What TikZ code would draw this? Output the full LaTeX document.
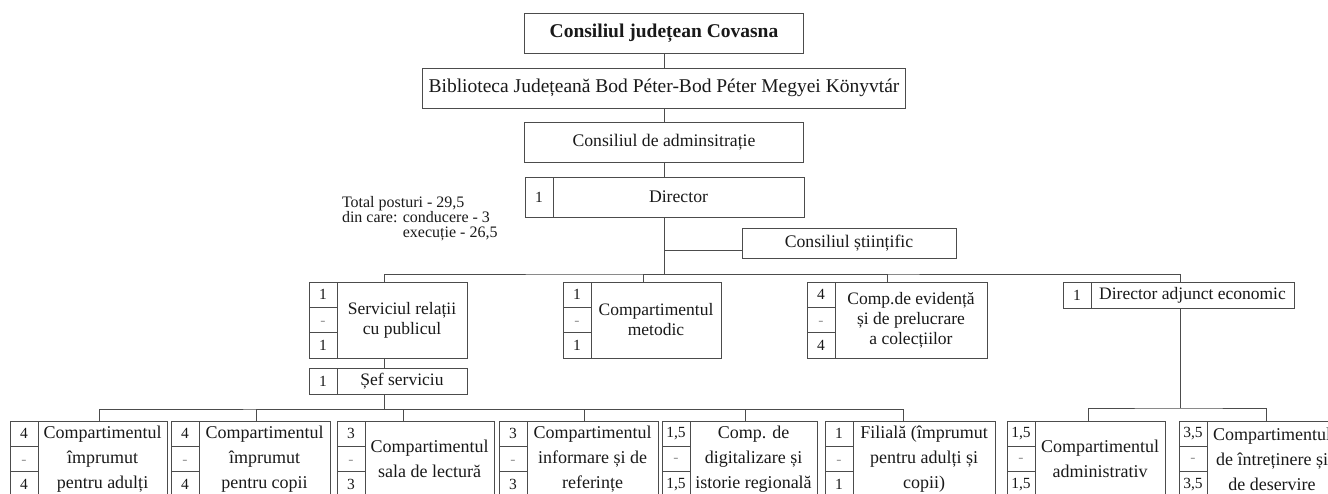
\documentclass[tikz,border=0pt]{standalone}
\usepackage{fontspec}
\setmainfont{Liberation Serif}
\usetikzlibrary{positioning}

\begin{document}
\begin{tikzpicture}[x=1pt,y=-1pt,
  every node/.style={outer sep=0pt},
  box/.style={draw=black!70,line width=1pt,align=center,inner sep=0pt,text=black!90},
  unit/.style={box,minimum height=76pt,font=\fontsize{17.5}{20}\selectfont},
  leaf/.style={box,minimum height=76pt,font=\fontsize{18}{25}\selectfont},
  numcol/.style={box,minimum width=28pt,minimum height=76pt,anchor=north east,font=\fontsize{15.5}{25.33}\selectfont,
    path picture={\draw[black!70,line width=1pt]
      ([yshift=-25.33pt]path picture bounding box.north west) -- ([yshift=-25.33pt]path picture bounding box.north east)
      ([yshift=25.33pt]path picture bounding box.south west) -- ([yshift=25.33pt]path picture bounding box.south east);}},
  num/.style={box,minimum width=28pt,anchor=north east,font=\fontsize{15.5}{18}\selectfont},
  link/.style={draw=black!70,line width=1pt}
  ]
    \useasboundingbox (0,0) rectangle (1328,493);
    \clip (0,0) rectangle (1328,493);

    \node[box,minimum width=279pt,minimum height=40pt,font=\fontsize{19.5}{22}\selectfont\bfseries] (cjc) at (664,33) {Consiliul județean Covasna};
    \node[box,minimum width=483pt,minimum height=40pt,font=\fontsize{19.5}{22}\selectfont] (bib) at (664,88) {Biblioteca Județeană Bod Péter-Bod Péter Megyei Könyvtár};
    \node[box,minimum width=279pt,minimum height=40pt,font=\fontsize{17.7}{20}\selectfont] (cda) at (664,142) {Consiliul de adminsitrație};
    \node[box,minimum width=251pt,minimum height=40pt,font=\fontsize{17.7}{20}\selectfont] (dir) at (678.5,197) {Director};
    \node[num,minimum height=40pt] (dirn) at (dir.north west) {1};
    \node[box,minimum width=214pt,minimum height=30pt,font=\fontsize{17.7}{20}\selectfont] (sci) at (849,243) {Consiliul științific};

    \node[align=left,anchor=north west,inner sep=0pt,text=black!90,font=\fontsize{16}{15}\selectfont] (tot) at (342,196)
        {Total posturi - 29,5\\din care: conducere - 3\\\phantom{din care: }execuție - 26,5};

    % second level
    \node[unit,minimum width=130pt] (srv) at (402,320) {Serviciul relații\\cu publicul};
    \node[numcol] (srvn) at (srv.north west) {1\\\textcolor{black!40}{-}\\1};
    \node[unit,minimum width=130pt] (met) at (656,320) {Compartimentul\\metodic};
    \node[numcol] (metn) at (met.north west) {1\\\textcolor{black!40}{-}\\1};
    \node[unit,minimum width=152pt] (evi) at (911,320) {Comp.de evidență\\și de prelucrare\\a colecțiilor};
    \node[numcol] (evin) at (evi.north west) {4\\\textcolor{black!40}{-}\\4};
    \node[box,minimum width=203pt,minimum height=26pt,font=\fontsize{17.5}{20}\selectfont] (dae) at (1192.5,295) {Director adjunct economic};
    \node[num,minimum height=26pt] (daen) at (dae.north west) {1};
    \node[box,minimum width=130pt,minimum height=26pt,font=\fontsize{17.5}{20}\selectfont] (sef) at (402,381) {Șef serviciu};
    \node[num,minimum height=26pt] (sefn) at (sef.north west) {1};

    % compartments
    \node[leaf,minimum width=129pt] (b1) at (102.5,459) {Compartimentul\\împrumut\\pentru adulți};
    \node[numcol] (b1n) at (b1.north west) {4\\\textcolor{black!40}{-}\\4};
    \node[leaf,minimum width=131pt] (b2) at (264.5,459) {Compartimentul\\împrumut\\pentru copii};
    \node[numcol] (b2n) at (b2.north west) {4\\\textcolor{black!40}{-}\\4};
    \node[leaf,minimum width=129pt] (b3) at (429.5,459) {Compartimentul\\sala de lectură};
    \node[numcol] (b3n) at (b3.north west) {3\\\textcolor{black!40}{-}\\3};
    \node[leaf,minimum width=131pt] (b4) at (592.5,459) {Compartimentul\\informare și de\\referințe};
    \node[numcol] (b4n) at (b4.north west) {3\\\textcolor{black!40}{-}\\3};
    \node[leaf,minimum width=127pt] (b5) at (753.5,459) {Comp. de\\digitalizare și\\istorie regională};
    \node[numcol] (b5n) at (b5.north west) {1,5\\\textcolor{black!40}{-}\\1,5};
    \node[leaf,minimum width=142pt] (b6) at (924,459) {Filială (împrumut\\pentru adulți și\\copii)};
    \node[numcol] (b6n) at (b6.north west) {1\\\textcolor{black!40}{-}\\1};
    \node[leaf,minimum width=130pt] (b7) at (1100,459) {Compartimentul\\administrativ};
    \node[numcol] (b7n) at (b7.north west) {1,5\\\textcolor{black!40}{-}\\1,5};
    \node[leaf,minimum width=130pt] (b8) at (1272,459) {Compartimentul\\de întreținere și\\de deservire};
    \node[numcol] (b8n) at (b8.north west) {3,5\\\textcolor{black!40}{-}\\3,5};

    % links
    \draw[link] (cjc) -- (bib) -- (cda) -- (cda |- dir.north);
    \draw[link] (cda |- dir.south) -- ++(0,57) coordinate (hub);
    \draw[link] ([yshift=-7pt]sci.west) -| (hub);
    \draw[link] ([xshift=-18pt]srv.north) |- (hub) -| ([xshift=-12.5pt]dae.north);
    \draw[link] ([xshift=-13pt]met.north) |- (hub);
    \draw[link] ([xshift=-24pt]evi.north) |- (hub);
    \draw[link] ([xshift=-18pt]srv.south) -- ([xshift=-18pt]sef.north);
    \draw[link] ([xshift=-18pt]sef.south) -- ++(0,15) coordinate (sbus);
    \draw[link] ([xshift=-3.5pt]b1.north) |- (sbus) -| ([xshift=-21pt]b6.north);
    \draw[link] ([xshift=-8.5pt]b2.north) |- (sbus);
    \draw[link] ([xshift=-26.5pt]b3.north) |- (sbus);
    \draw[link] ([xshift=-8.5pt]b4.north) |- (sbus);
    \draw[link] ([xshift=-8.5pt]b5.north) |- (sbus);
    \draw[link] ([xshift=-12.5pt]dae.south) -- ++(0,100) coordinate (ebus);
    \draw[link] ([xshift=-12pt]b7.north) |- (ebus) -| ([xshift=-6pt]b8.north);
\end{tikzpicture}
\end{document}
